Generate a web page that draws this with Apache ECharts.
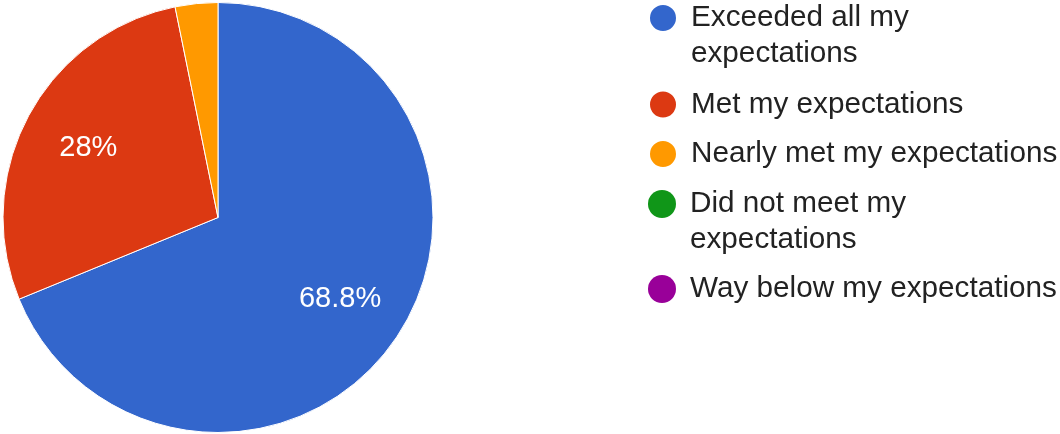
<!DOCTYPE html>
<html>
<head>
<meta charset="utf-8">
<script src="https://cdn.jsdelivr.net/npm/echarts@6/dist/echarts.min.js"></script>
<style>
  html, body { margin: 0; padding: 0; background: #fff; }
  #chart { width: 1060px; height: 434px; }
</style>
</head>
<body>
<div id="chart"></div>
<script>
const categories = [
  "Exceeded all my\nexpectations",
  "Met my expectations",
  "Nearly met my expectations",
  "Did not meet my\nexpectations",
  "Way below my expectations"
];
const responses = [86, 35, 4, 0, 0];
const sliceColors = ['#3366CC', '#DC3912', '#FF9900', '#109618', '#990099'];

// vertical centre of each legend dot
const legendCenters = [18, 104.5, 154, 204, 289];

const pieData = categories.map((name, i) => ({
  name: name,
  value: responses[i],
  itemStyle: { color: sliceColors[i], borderWidth: responses[i] ? 1 : 0 }
}));

// a wrapped name gets an empty first line so the dot lines up with its first line
const legends = categories.map((name, i) => {
  const twoLine = name.indexOf("\n") >= 0;
  return {
    orient: 'vertical',
    left: 648,
    top: legendCenters[i] - (twoLine ? 54 : 18),
    padding: 0,
    selectedMode: false,
    icon: 'circle',
    itemWidth: 28,
    itemHeight: 28,
    formatter: n => (n.indexOf("\n") >= 0 ? "\n" + n : n),
    textStyle: {
      fontFamily: 'Liberation Sans, Arial, sans-serif',
      fontSize: 29.7,
      lineHeight: 36,
      color: '#222',
      padding: [0, 0, 0, 9]
    },
    data: [name]
  };
});

const chart = echarts.init(document.getElementById('chart'));
chart.setOption({
  animation: false,
  legend: legends,
  series: [
    {
      type: 'pie',
      center: [218, 217.5],
      radius: [0, 215],
      startAngle: 90,
      clockwise: true,
      silent: true,
      label: { show: false },
      labelLine: { show: false },
      itemStyle: { borderColor: '#fff', borderWidth: 1 },
      data: pieData
    },
    {
      // label layer: labels sit at ~2/3 of the radius
      type: 'pie',
      center: [218, 217.5],
      radius: [73, 215],
      startAngle: 90,
      clockwise: true,
      silent: true,
      itemStyle: { color: 'rgba(0,0,0,0)', borderWidth: 0 },
      labelLine: { show: false },
      label: {
        show: true,
        position: 'inside',
        color: '#fff',
        fontFamily: 'Liberation Sans, Arial, sans-serif',
        fontSize: 29,
        textBorderWidth: 0,
        formatter: p => p.percent >= 5 ? p.percent + '%' : ''
      },
      data: categories.map((name, i) => ({ name: name, value: responses[i] }))
    }
  ]
});
window.addEventListener('resize', () => chart.resize());
</script>
</body>
</html>
